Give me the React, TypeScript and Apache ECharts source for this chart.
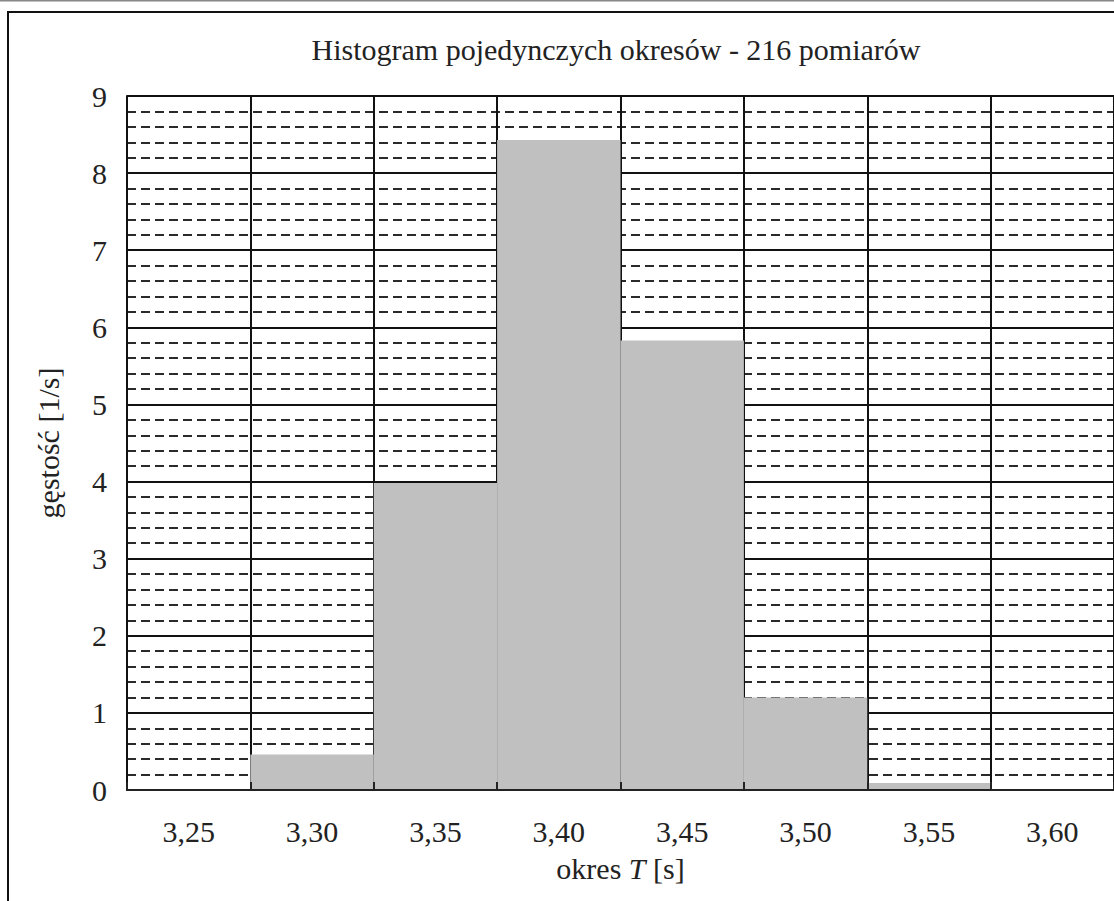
import React, { useEffect, useRef } from "react";
import * as echarts from "echarts";

const categories = ["3,25", "3,30", "3,35", "3,40", "3,45", "3,50", "3,55", "3,60"];
const density = [0, 0.46, 3.98, 8.43, 5.83, 1.2, 0.09, 0];
const titleText = "Histogram pojedynczych okresów - 216 pomiarów";
const yName = "gęstość [1/s]";

const FONT = "'Liberation Serif', 'Times New Roman', Times, 'DejaVu Serif', serif";

export default function App() {
  const ref = useRef<HTMLDivElement>(null);
  useEffect(() => {
    if (!ref.current) return;
    const chart = echarts.init(ref.current, undefined, { renderer: "svg" });
    chart.setOption({
      animation: false,
      backgroundColor: "#fff",
      textStyle: { fontFamily: FONT, color: "#222" },
      graphic: [
        { type: "line", shape: { x1: 0, y1: 0.5, x2: 1114, y2: 0.5 }, style: { stroke: "#888", lineWidth: 2 }, silent: true },
        { type: "rect", shape: { x: 8, y: 12, width: 1200, height: 1000 }, style: { fill: "none", stroke: "#111", lineWidth: 2 }, silent: true, z: 100 },
        {
          type: "text",
          x: 616,
          y: 49,
          style: { text: titleText, font: `30px ${FONT}`, fill: "#222", textAlign: "center", textVerticalAlign: "middle" },
          silent: true,
        },
      ],
      grid: { left: 127, top: 96, width: 990, height: 694, containLabel: false },
      xAxis: [
        {
          type: "category",
          data: categories,
          boundaryGap: true,
          axisLine: { show: true, lineStyle: { color: "#222", width: 2 } },
          axisTick: { show: false },
          axisLabel: { show: true, fontFamily: FONT, fontSize: 30, color: "#222", margin: 26 },
          splitLine: { show: true, interval: 0, lineStyle: { color: "#111", width: 2 } },
          name: "okres {i|T} [s]",
          nameLocation: "middle",
          nameGap: 63,
          nameTextStyle: {
            fontFamily: FONT,
            fontSize: 30,
            color: "#222",
            rich: { i: { fontFamily: FONT, fontSize: 30, fontStyle: "italic", color: "#222" } },
          },
        },
        {
          type: "category",
          data: categories,
          position: "bottom",
          boundaryGap: true,
          z: 10,
          axisLine: { show: true, lineStyle: { color: "#222", width: 2 } },
          axisTick: { show: true, inside: true, length: 8, interval: 0, lineStyle: { color: "#222", width: 2 } },
          axisLabel: { show: false },
          splitLine: { show: false },
        },
      ],
      yAxis: {
        type: "value",
        min: 0,
        max: 9,
        interval: 1,
        axisLine: { show: true, lineStyle: { color: "#111", width: 2 } },
        axisTick: { show: false },
        axisLabel: { fontFamily: FONT, fontSize: 30, color: "#222", margin: 20 },
        splitLine: { show: true, lineStyle: { color: "#111", width: 2 } },
        minorTick: { show: false, splitNumber: 5 },
        minorSplitLine: { show: true, lineStyle: { color: "#2a2a2a", width: 2, type: [9, 5] } },
        name: yName,
        nameLocation: "middle",
        nameRotate: 90,
        nameGap: 64,
        nameTextStyle: { fontFamily: FONT, fontSize: 30, color: "#222" },
      },
      series: [
        {
          type: "bar",
          data: density,
          xAxisIndex: 0,
          barWidth: "100%",
          barCategoryGap: "0%",
          itemStyle: { color: "#c0c0c0", borderColor: "#c0c0c0", borderWidth: 1.5 },
          silent: true,
        },
      ],
    });
    return () => chart.dispose();
  }, []);
  return <div ref={ref} style={{ position: "absolute", left: 0, top: 0, width: 1114, height: 901 }} />;
}
